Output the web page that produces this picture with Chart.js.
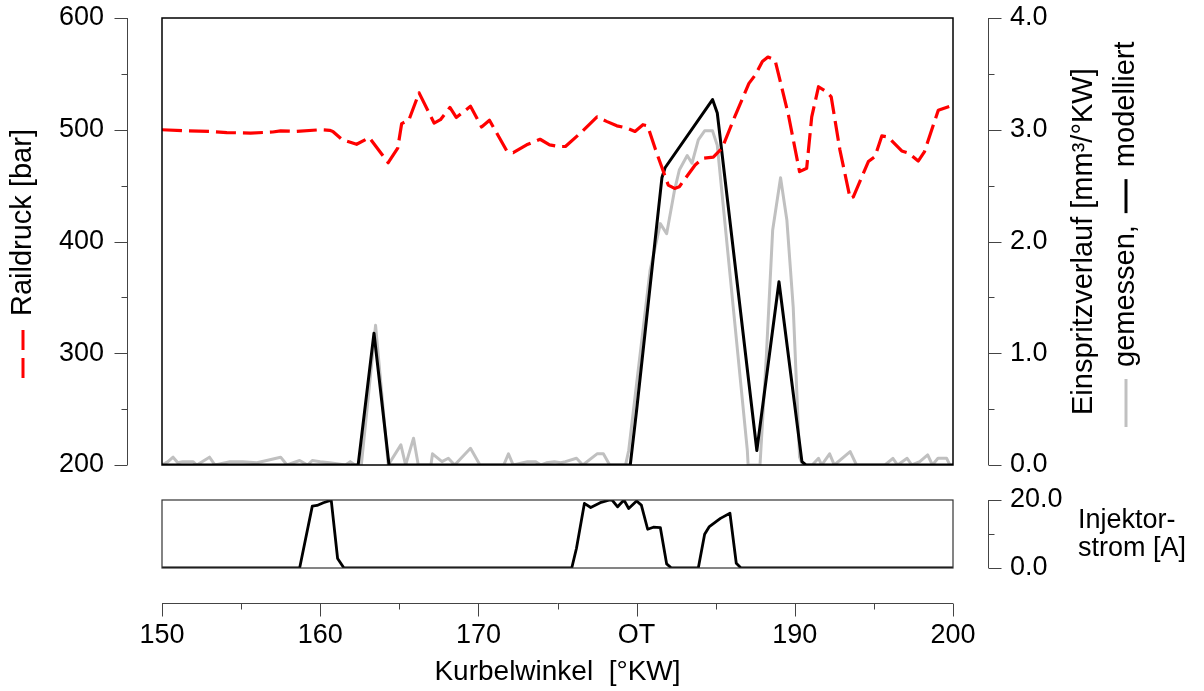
<!DOCTYPE html>
<html lang="de">
<head>
<meta charset="utf-8">
<title>Raildruck, Einspritzverlauf und Injektorstrom</title>
<script src="https://cdn.jsdelivr.net/npm/chart.js@4.4.1/dist/chart.umd.min.js"></script>
<style>
  body { margin: 0; background: #fff; }
  #oben { position: absolute; left: 0; top: 0; }
  #unten { position: absolute; left: 0; top: 485px; }
</style>
</head>
<body>
<canvas id="oben" width="1204" height="485"></canvas>
<canvas id="unten" width="1204" height="206"></canvas>
<script>
// Raildruck [bar] (rot gestrichelt)
const raildruckKW = [150, 151.5, 153, 154.1, 155.6, 157, 157.5, 158.5, 160, 160.6,
  160.8, 161.4, 162.3, 163.1, 164.3, 164.9, 165.15, 165.6, 166.25, 167.2,
  167.6, 168.2, 168.6, 169.5, 170.2, 170.7, 171.8, 172.2, 173.05, 173.9,
  174.5, 175.05, 175.5, 176.6, 177.5, 178.1, 178.75, 179.4, 179.9, 180.4,
  180.7, 181.2, 182.0, 182.4, 182.7, 183.7, 184.2, 184.85, 185.4, 186.2,
  187.1, 187.5, 187.95, 188.3, 188.75, 189.6, 190.3, 190.75, 191.07, 191.5,
  192.0, 192.3, 192.85, 193.5, 193.7, 194.65, 195.07, 195.5, 195.9, 196.76,
  197.2, 197.8, 198.2, 199.07, 200];
const raildruckBar = [500, 499, 498.5, 497.5, 497, 498, 499, 498.5, 500, 499.5,
  498.5, 491, 487, 493, 470.5, 483.5, 505.5, 508.5, 533, 506,
  509, 520, 511, 521, 502.5, 508.5, 481, 479.5, 486.5, 491.5,
  486.5, 485, 485, 499, 511.5, 507.5, 503.5, 501.5, 498.5, 504.5,
  503.5, 482, 450.5, 447.5, 449, 468.5, 474.5, 475.5, 483.5, 511.5,
  541.5, 549, 561, 565, 562.5, 513, 462.5, 465.5, 511.5, 538.5,
  534, 529.5, 482, 438.5, 440, 471.5, 476, 494.5, 493.5, 481,
  479, 472, 480.5, 517.5, 522];

// Einspritzverlauf gemessen [mm³/°KW] (grau)
const gemessenKW = [150, 150.38, 150.7, 151.0, 151.3, 151.6, 151.96, 152.2, 153.0, 153.35,
  154.3, 155.1, 156.0, 157.5, 157.9, 158.7, 159.2, 159.5, 160.0, 160.6,
  161.6, 161.9, 162.2, 162.6, 163.5, 164.3, 165.1, 165.4, 165.9, 166.2,
  167.0, 167.1, 167.7, 168.1, 168.5, 169.5, 170.1, 171.6, 171.9, 172.2,
  173.1, 173.6, 173.96, 174.3, 174.8, 175.2, 175.5, 176.2, 176.6, 177.5,
  177.9, 178.3, 179.3, 179.5, 180.85, 181.5, 181.9, 182.4, 182.7, 183.2,
  183.5, 183.9, 184.3, 184.8, 185.1, 187.0, 187.05, 187.8, 188.2, 188.6,
  189.1, 189.5, 189.9, 190.3, 190.5, 191.1, 191.5, 191.7, 192.2, 192.5,
  193.5, 193.9, 195.7, 196.2, 196.5, 197.1, 197.4, 197.9, 198.4, 198.7,
  199.05, 199.6, 199.8, 200];
const gemessenWert = [0, 0.03, 0.07, 0.02, 0.03, 0.03, 0.03, 0, 0.07, 0,
  0.03, 0.03, 0.02, 0.07, 0, 0.04, 0, 0.04, 0.03, 0.02,
  0, 0.03, 0, 0, 1.25, 0, 0.18, 0, 0.24, 0,
  0, 0.1, 0.03, 0.06, 0, 0.15, 0, 0, 0.1, 0,
  0.03, 0.03, 0, 0.02, 0.03, 0.02, 0.03, 0.06, 0, 0.1,
  0.1, 0, 0, 0.13, 1.74, 2.16, 2.07, 2.46, 2.64, 2.77,
  2.70, 2.91, 2.99, 2.99, 2.86, 0.13, 0, 0, 0.97, 2.1,
  2.57, 2.19, 1.41, 0.07, 0, 0, 0.06, 0, 0.1, 0,
  0.12, 0, 0, 0.06, 0, 0.06, 0, 0.03, 0.09, 0,
  0.06, 0.06, 0, 0];

// Einspritzverlauf modelliert [mm³/°KW] (schwarz)
const modelliertKW = [150, 162.4, 163.4, 164.35, 164.6, 179.6, 180.0, 181.6, 181.8, 184.8,
  185.1, 187.6, 189.0, 190.45, 190.7, 200];
const modelliertWert = [0, 0, 1.18, 0, 0, 0, 0.49, 2.57, 2.66, 3.27,
  3.15, 0.13, 1.64, 0.03, 0, 0];

// Injektorstrom [A]
const stromKW = [150, 158.7, 159.5, 159.8, 160.2, 160.6, 160.7, 161.1, 161.5, 175.9,
  176.2, 176.7, 177.1, 177.7, 178.3, 178.45, 178.8, 179.2, 179.5, 180.0,
  180.3, 180.7, 181.06, 181.5, 181.9, 182.2, 183.9, 184.3, 184.6, 185.3,
  185.9, 186.3, 186.6, 200];
const stromA = [0, 0, 18.2, 18.4, 19.2, 19.8, 19.8, 2.8, 0, 0,
  5.8, 19.0, 17.8, 19.2, 20, 20, 18.0, 20, 17.5, 19.7,
  18.5, 11.4, 12.0, 11.9, 1.2, 0, 0, 9.9, 12.2, 14.6,
  16.1, 1.4, 0, 0];

// Beschriftung der x-Achse
const xTickWerte = [150, 160, 170, 180, 190, 200];
const xTickText = ["150", "160", "170", "OT", "190", "200"];

const schrift = "'Liberation Sans', Arial, Helvetica, sans-serif";
Chart.defaults.font.family = schrift;
Chart.defaults.color = "#000";
Chart.defaults.animation = false;

function punkte(xs, ys) {
  return xs.map((x, i) => ({ x: x, y: ys[i] }));
}

// Breite der Achse festlegen, ohne dass der Tick-Abstand den Plotbereich verschiebt
function festeBreite(breite) {
  return (s) => {
    s.width = breite;
    s.paddingTop = 0;
    s.paddingBottom = 0;
  };
}

// Senkrechte Achse neben dem Rahmen (Striche nach außen)
function senkrechteAchse(ctx, scale, x, richtung, min, max, schritt, hauptSchritt) {
  ctx.strokeStyle = "#444";
  ctx.lineWidth = 1;
  ctx.setLineDash([]);
  ctx.beginPath();
  ctx.moveTo(x, scale.getPixelForValue(min));
  ctx.lineTo(x, scale.getPixelForValue(max));
  const n = Math.round((max - min) / schritt);
  for (let i = 0; i <= n; i++) {
    const v = min + i * schritt;
    const y = Math.round(scale.getPixelForValue(v)) + 0.5;
    const q = v / hauptSchritt;
    const lang = Math.abs(q - Math.round(q)) < 1e-6;
    ctx.moveTo(x, y);
    ctx.lineTo(x + richtung * (lang ? 13 : 6), y);
  }
  ctx.stroke();
}

// Senkrechter Text mit Liniensymbolen, von unten nach oben
function senkrechteZeile(ctx, x, yUnten, teile) {
  ctx.save();
  ctx.translate(x, yUnten);
  ctx.rotate(-Math.PI / 2);
  ctx.font = "29px " + schrift;
  ctx.fillStyle = "#000";
  ctx.textAlign = "left";
  ctx.textBaseline = "middle";
  let u = 0;
  for (const t of teile) {
    if (t.text) {
      ctx.fillText(t.text, u, 0);
      u += ctx.measureText(t.text).width;
    } else if (t.linie) {
      ctx.strokeStyle = t.linie;
      ctx.lineWidth = 3;
      ctx.setLineDash(t.dash || []);
      ctx.beginPath();
      ctx.moveTo(u, 0);
      ctx.lineTo(u + t.laenge, 0);
      ctx.stroke();
      ctx.setLineDash([]);
      u += t.laenge;
    } else if (t.luecke) {
      u += t.luecke;
    }
  }
  ctx.restore();
}

const rahmenOben = {
  id: "rahmenOben",
  afterDraw(chart) {
    const { ctx, chartArea: a, scales } = chart;
    ctx.save();
    ctx.strokeStyle = "#000";
    ctx.lineWidth = 1.5;
    ctx.strokeRect(a.left, a.top, a.right - a.left, a.bottom - a.top);
    senkrechteAchse(ctx, scales.y, 127.5, -1, 200, 600, 50, 100);
    senkrechteAchse(ctx, scales.y2, 988.5, 1, 0, 4, 0.5, 1);
    senkrechteZeile(ctx, 23, 378, [
      { linie: "#ff0000", dash: [20, 8], laenge: 48 },
      { luecke: 14 },
      { text: "Raildruck [bar]" }
    ]);
    senkrechteZeile(ctx, 1084, 415, [{ text: "Einspritzverlauf [mm³/°KW]" }]);
    senkrechteZeile(ctx, 1126, 427, [
      { linie: "#c0c0c0", laenge: 48 },
      { luecke: 12 },
      { text: "gemessen," },
      { luecke: 12 },
      { linie: "#000", laenge: 34 },
      { luecke: 12 },
      { text: "modelliert" }
    ]);
    ctx.restore();
  }
};

const rahmenUnten = {
  id: "rahmenUnten",
  afterDraw(chart) {
    const { ctx, chartArea: a, scales } = chart;
    ctx.save();
    ctx.strokeStyle = "#333";
    ctx.lineWidth = 1.2;
    ctx.strokeRect(a.left, a.top, a.right - a.left, a.bottom - a.top);
    senkrechteAchse(ctx, scales.y, 988.5, 1, 0, 20, 10, 20);

    // x-Achse unterhalb des Rahmens
    const yAchse = a.bottom + 35.5;
    const xs = scales.x;
    ctx.strokeStyle = "#444";
    ctx.lineWidth = 1;
    ctx.beginPath();
    ctx.moveTo(xs.getPixelForValue(150), yAchse);
    ctx.lineTo(xs.getPixelForValue(200), yAchse);
    for (let v = 150; v <= 200; v += 5) {
      const x = Math.round(xs.getPixelForValue(v)) + 0.5;
      ctx.moveTo(x, yAchse);
      ctx.lineTo(x, yAchse + (v % 10 === 0 ? 13 : 6));
    }
    ctx.stroke();

    ctx.font = "27px " + schrift;
    ctx.fillStyle = "#000";
    ctx.textAlign = "left";
    ctx.textBaseline = "middle";
    ctx.fillText("Injektor-", 1078, 36);
    ctx.fillText("strom [A]", 1078, 64);
    ctx.restore();
  }
};

const tickFont = { size: 27, family: schrift };

new Chart(document.getElementById("oben"), {
  type: "line",
  data: {
    datasets: [
      {
        label: "Raildruck",
        data: punkte(raildruckKW, raildruckBar),
        yAxisID: "y",
        borderColor: "#ff0000",
        borderWidth: 3.2,
        borderDash: [20, 7],
        pointRadius: 0,
        borderJoinStyle: "round"
      },
      {
        label: "modelliert",
        data: punkte(modelliertKW, modelliertWert),
        yAxisID: "y2",
        borderColor: "#000",
        borderWidth: 3,
        pointRadius: 0,
        borderJoinStyle: "round"
      },
      {
        label: "gemessen",
        data: punkte(gemessenKW, gemessenWert),
        yAxisID: "y2",
        borderColor: "#c0c0c0",
        borderWidth: 3,
        pointRadius: 0,
        borderJoinStyle: "round"
      }
    ]
  },
  options: {
    responsive: false,
    devicePixelRatio: 1,
    layout: { padding: { top: 18, bottom: 20, left: 0, right: 0 } },
    plugins: { legend: { display: false }, tooltip: { enabled: false } },
    scales: {
      x: { type: "linear", min: 150, max: 200, display: false },
      y: {
        position: "left",
        min: 200,
        max: 600,
        grid: { display: false, drawTicks: false },
        border: { display: false },
        ticks: { stepSize: 100, padding: 58, font: tickFont },
        afterFit: festeBreite(162)
      },
      y2: {
        position: "right",
        min: 0,
        max: 4,
        grid: { display: false, drawTicks: false },
        border: { display: false },
        ticks: { stepSize: 1, padding: 57, font: tickFont, callback: (v) => v.toFixed(1) },
        afterFit: festeBreite(251)
      }
    }
  },
  plugins: [rahmenOben]
});

new Chart(document.getElementById("unten"), {
  type: "line",
  data: {
    datasets: [
      {
        label: "Injektorstrom",
        data: punkte(stromKW, stromA),
        borderColor: "#000",
        borderWidth: 2.8,
        pointRadius: 0,
        borderJoinStyle: "round"
      }
    ]
  },
  options: {
    responsive: false,
    devicePixelRatio: 1,
    layout: { padding: { top: 15, bottom: 0, left: 162, right: 0 } },
    plugins: { legend: { display: false }, tooltip: { enabled: false } },
    scales: {
      x: {
        type: "linear",
        min: 150,
        max: 200,
        grid: { display: false, drawTicks: false },
        border: { display: false },
        ticks: {
          stepSize: 10,
          padding: 51,
          font: tickFont,
          maxRotation: 0,
          callback: (v) => {
            const i = xTickWerte.indexOf(v);
            return i >= 0 ? xTickText[i] : "";
          }
        },
        title: {
          display: true,
          text: "Kurbelwinkel  [°KW]",
          font: { size: 28, family: schrift },
          padding: { top: 0, bottom: 2 }
        },
        afterFit: (s) => {
          s.height = 123;
          s.paddingLeft = 0;
          s.paddingRight = 0;
        }
      },
      y: {
        position: "right",
        min: 0,
        max: 20,
        grid: { display: false, drawTicks: false },
        border: { display: false },
        ticks: { stepSize: 20, padding: 57, font: tickFont, callback: (v) => v.toFixed(1) },
        afterFit: festeBreite(251)
      }
    }
  },
  plugins: [rahmenUnten]
});
</script>
</body>
</html>
